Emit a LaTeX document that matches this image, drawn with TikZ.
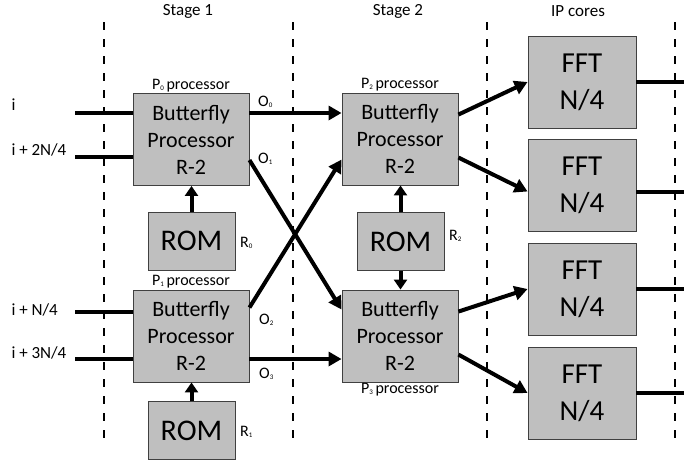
\documentclass[tikz,border=0pt]{standalone}
\usepackage{fontspec}
\setmainfont{Carlito}
\usepackage{tikz}
\usetikzlibrary{arrows.meta, positioning, calc}
\definecolor{boxgray}{RGB}{191,191,191}
\definecolor{boxline}{RGB}{64,64,64}
\newcommand{\lowidx}[1]{\raisebox{-1pt}{\fontsize{7}{7}\selectfont#1}}

\begin{document}
\begin{tikzpicture}[
    x=1pt, y=-1pt,
    box/.style={draw=boxline, fill=boxgray, line width=0.9pt, inner sep=2pt, align=center},
    bfly/.style={box, minimum width=116pt, minimum height=92pt, font=\fontsize{22}{27}\selectfont},
    rom/.style={box, minimum width=87pt, minimum height=58pt, font=\fontsize{30}{36}\selectfont},
    fft/.style={box, minimum width=108pt, minimum height=92pt, font=\fontsize{29}{37}\selectfont},
    head/.style={font=\fontsize{17}{20}\selectfont},
    tag/.style={font=\fontsize{16}{18}\selectfont, inner sep=0pt},
    wire/.style={line width=4pt},
    arrow/.style={wire, -{Triangle[length=13pt,width=14pt]}},
    romarrow/.style={wire, -{Triangle[length=10pt,width=13pt]}},
    stagesep/.style={line width=2.4pt, dash pattern=on 8pt off 9pt}
]
    \useasboundingbox (0,0) rectangle (684,466);

    % Stage borders and titles
    \foreach \x in {104,293,487,675}
        \draw[stagesep] (\x,22) -- (\x,438);
    \node[head] (stage1) at (188,11) {Stage 1};
    \node[head] (stage2) at (398,11) {Stage 2};
    \node[head] (ipcores) at (578,11) {IP cores};

    % Stage 1
    \node[bfly, label={[tag, label distance=1pt]above:P\lowidx{0}\,processor}] (p0) at (191,139.5) {Butterfly\\Processor\\R-2};
    \node[bfly, label={[tag, label distance=1pt]above:P\lowidx{1}\,processor}] (p1) at (191,336) {Butterfly\\Processor\\R-2};
    \node[rom] (rom0) at (191.5,241) {ROM};
    \node[rom] (rom1) at (191.5,430.5) {ROM};
    \node[tag, anchor=west] (r0) at (240,243) {R\lowidx{0}};
    \node[tag, anchor=west] (r1) at (240,432) {R\lowidx{1}};

    % Stage 2
    \node[bfly, label={[tag, label distance=1pt]above:P\lowidx{2}\,processor}] (p2) at (400,139) {Butterfly\\Processor\\R-2};
    \node[bfly, label={[tag, label distance=1pt]below:P\lowidx{3}\,processor}] (p3) at (400,336) {Butterfly\\Processor\\R-2};
    \node[rom] (rom2) at (400.5,241.5) {ROM};
    \node[tag, anchor=west] (r2) at (449,236) {R\lowidx{2}};

    % IP cores
    \node[fft] (fft1) at (582,82) {FFT\\N/4};
    \node[fft] (fft2) at (582,185.5) {FFT\\N/4};
    \node[fft] (fft3) at (582,289) {FFT\\N/4};
    \node[fft] (fft4) at (582,393) {FFT\\N/4};

    % Inputs
    \coordinate (in0) at (75,113);
    \coordinate (in2) at (75,157);
    \coordinate (in1) at (75,312);
    \coordinate (in3) at (75,359);
    \node[head, anchor=west] (lin0) at (8,105) {i};
    \node[head, anchor=west] (lin2) at (8,150) {i + 2N/4};
    \node[head, anchor=west] (lin1) at (8,310) {i + N/4};
    \node[head, anchor=west] (lin3) at (8,353) {i + 3N/4};
    \draw[wire] (in0) -- (in0 -| p0.west);
    \draw[wire] (in2) -- (in2 -| p0.west);
    \draw[wire] (in1) -- (in1 -| p1.west);
    \draw[wire] (in3) -- (in3 -| p1.west);

    % ROM arrows
    \draw[romarrow] (rom0.north) -- (rom0.north |- p0.south);
    \draw[romarrow] (rom1.north) -- (rom1.north |- p1.south);
    \draw[romarrow] (rom2.north) -- (rom2.north |- p2.south);
    \draw[romarrow] (rom2.south) -- (rom2.south |- p3.north);

    % Stage 1 -> Stage 2
    \draw[arrow] (p0.east |- in0) -- (p2.west |- in0);
    \draw[arrow] ($(p0.north east)+(0,67)$) -- ($(p3.north west)+(0,20)$);
    \draw[arrow] ($(p1.north east)+(0,18)$) -- ($(p2.north west)+(0,67)$);
    \draw[arrow] (p1.east |- in3) -- (p3.west |- in3);
    \node[tag, anchor=west] (o0) at (258,102) {O\lowidx{0}};
    \node[tag, anchor=west] (o1) at (258,159) {O\lowidx{1}};
    \node[tag, anchor=west] (o2) at (259,320) {O\lowidx{2}};
    \node[tag, anchor=west] (o3) at (259,374) {O\lowidx{3}};

    % Stage 2 -> IP cores
    \draw[arrow] ($(p2.north east)+(0,22)$) -- (fft1.west);
    \draw[arrow] ($(p2.north east)+(0,65)$) -- ($(fft2.west)+(0,6)$);
    \draw[arrow] ($(p3.north east)+(0,22)$) -- (fft3.west);
    \draw[arrow] ($(p3.north east)+(0,65)$) -- (fft4.west);

    % Outputs
    \coordinate (rim) at (684,0);
    \draw[wire] (fft1.east) -- (fft1.east -| rim);
    \draw[wire] ($(fft2.east)+(0,6)$) -- ($(fft2.east -| rim)+(0,6)$);
    \draw[wire] (fft3.east) -- (fft3.east -| rim);
    \draw[wire] (fft4.east) -- (fft4.east -| rim);
\end{tikzpicture}
\end{document}
